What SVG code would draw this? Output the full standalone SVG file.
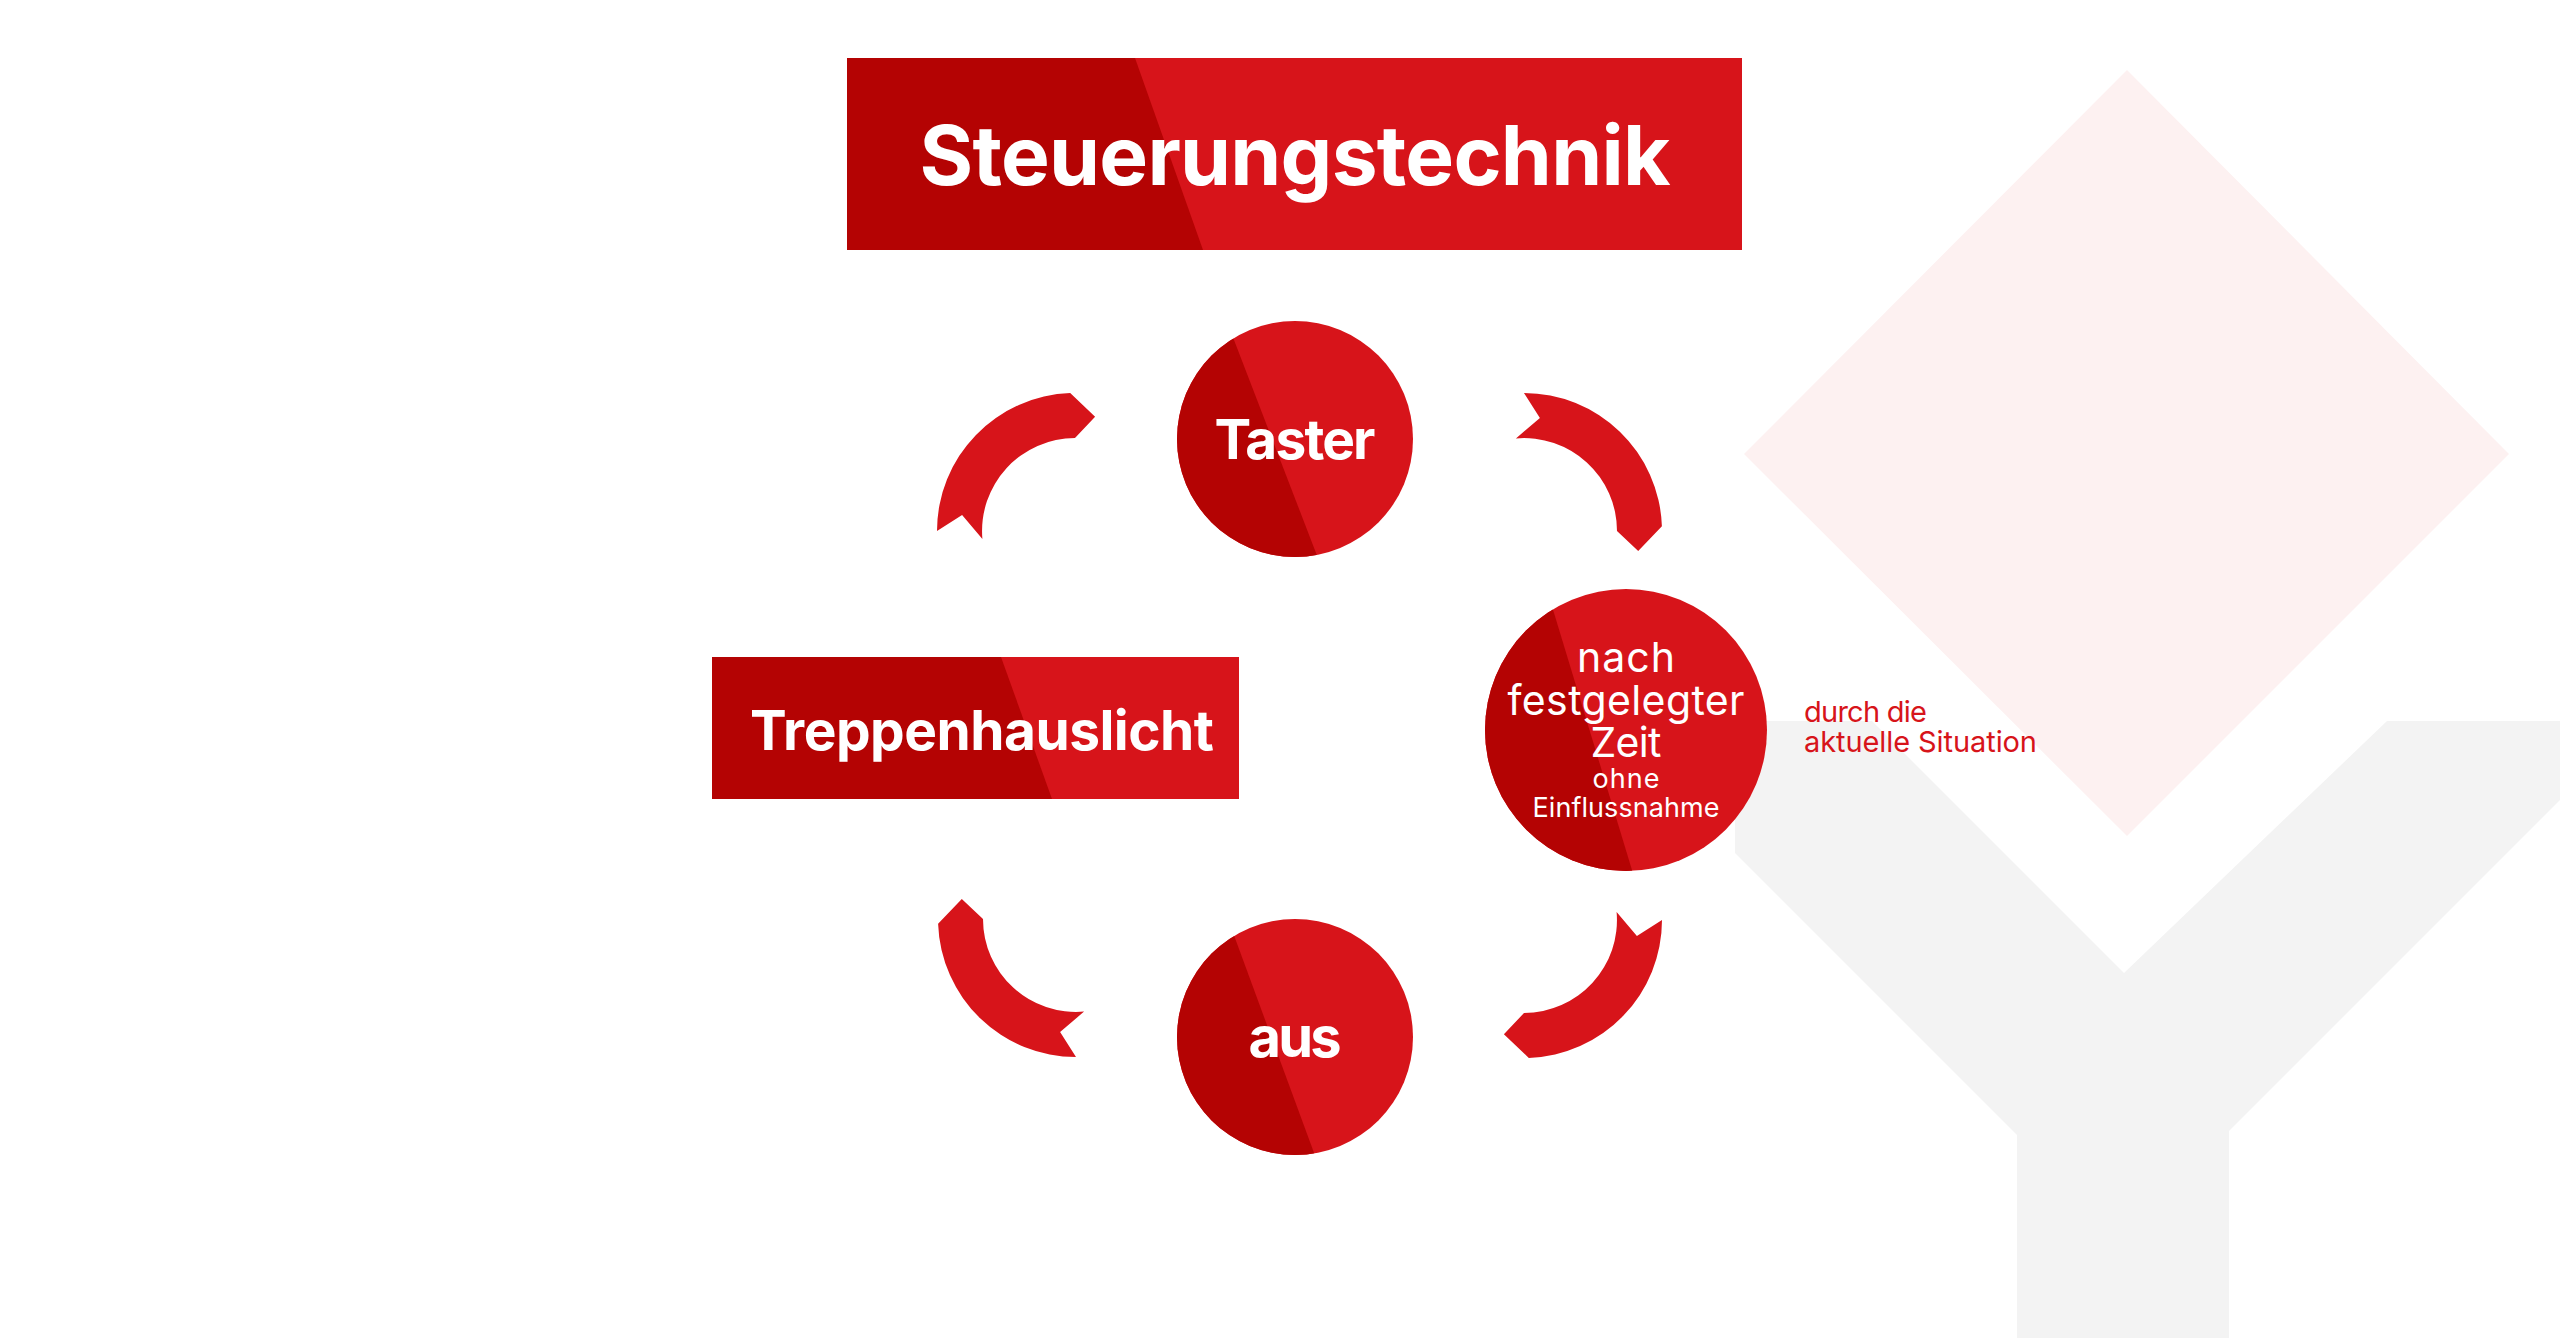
<svg xmlns="http://www.w3.org/2000/svg" width="2560" height="1338" viewBox="0 0 2560 1338">
<style>
.bright{fill:#d7141a}
.dark{fill:#b40303}
.lblB{font-family:Inter,"Liberation Sans",sans-serif;font-weight:700;fill:#ffffff;text-anchor:middle}
.lblR{font-family:Inter,"Liberation Sans",sans-serif;font-weight:400;fill:#ffffff;text-anchor:middle}
.note{font-family:Inter,"Liberation Sans",sans-serif;font-weight:400;fill:#d7141a}
</style>
<defs>
<path id="arc" d="M -138,0 A 138 138 0 0 1 -4.8,-137.9 L 20.1,-114.2 L 0,-93 A 93 93 0 0 0 -92.6,8.1 L -112.9,-15.9 Z"/>
<clipPath id="cTaster"><circle cx="1295" cy="439" r="118"/></clipPath>
<clipPath id="cAus"><circle cx="1295" cy="1037" r="118"/></clipPath>
<clipPath id="cZeit"><circle cx="1626" cy="730" r="141"/></clipPath>
</defs>
<rect width="2560" height="1338" fill="#ffffff"/>
<g id="background">
<polygon points="2127,70 2509,454 2127,836 1744,454" fill="#fdf1f1"/>
<polygon points="1735,721 1872,721 2124,973 2387,721 2560,721 2560,800 2229,1131 2229,1338 2017,1338 2017,1135 1735,853" fill="#f3f3f3"/>
</g>
<g id="title">
<rect x="847" y="58" width="895" height="192" class="bright"/>
<polygon points="847,58 1135,58 1203,250 847,250" class="dark"/>
<text x="1295" y="185" class="lblB" font-size="82" textLength="751">Steuerungstechnik</text>
</g>
<g id="connectors">
<use href="#arc" class="bright" transform="translate(1075,531)"/>
<use href="#arc" class="bright" transform="translate(1524,531) rotate(90)"/>
<use href="#arc" class="bright" transform="translate(1524,920) rotate(180)"/>
<use href="#arc" class="bright" transform="translate(1076,919) rotate(270)"/>
</g>
<g id="taster">
<circle cx="1295" cy="439" r="118" class="bright"/>
<polygon points="1170,300 1218.6,300 1326.4,580 1170,580" class="dark" clip-path="url(#cTaster)"/>
<text x="1295" y="459" class="lblB" font-size="55" textLength="161">Taster</text>
</g>
<g id="aus">
<circle cx="1295" cy="1037" r="118" class="bright"/>
<polygon points="1170,900 1221,900 1324,1180 1170,1180" class="dark" clip-path="url(#cAus)"/>
<text x="1295" y="1057" class="lblB" font-size="56" textLength="93">aus</text>
</g>
<g id="zeit">
<circle cx="1626" cy="730" r="141" class="bright"/>
<polygon points="1480,580 1544,580 1635,880 1480,880" class="dark" clip-path="url(#cZeit)"/>
<text x="1626" y="672" class="lblR" font-size="41" textLength="98">nach</text>
<text x="1626" y="715" class="lblR" font-size="41" textLength="237">festgelegter</text>
<text x="1626" y="757" class="lblR" font-size="41" textLength="71">Zeit</text>
<text x="1626" y="788" class="lblR" font-size="27" textLength="67">ohne</text>
<text x="1626" y="817" class="lblR" font-size="27" textLength="187">Einflussnahme</text>
</g>
<g id="treppenhauslicht">
<rect x="712" y="657" width="527" height="142" class="bright"/>
<polygon points="712,657 1001,657 1052,799 712,799" class="dark"/>
<text x="982" y="750" class="lblB" font-size="55" textLength="464">Treppenhauslicht</text>
</g>
<g id="note">
<text x="1804" y="722" class="note" font-size="29" textLength="123">durch die</text>
<text x="1804" y="752" class="note" font-size="29" textLength="233">aktuelle Situation</text>
</g>
</svg>
